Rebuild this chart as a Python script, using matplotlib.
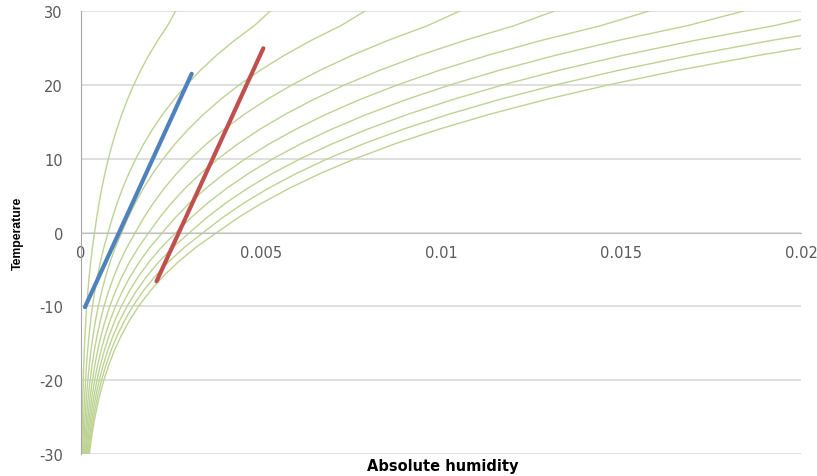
import numpy as np
from matplotlib import pyplot as plt, font_manager as fm

# Temperature grid and saturation absolute humidity (kg/kg) read for the curves
temps = [-30, -28, -26, -24, -22, -20, -18, -16, -14, -12, -10, -8, -6, -4, -2,
         0, 2, 4, 6, 8, 10, 12, 14, 16, 18, 20, 22, 24, 26, 28, 30]
sat_humidity = [0.000234, 0.000287, 0.000352, 0.000430, 0.000523, 0.000635,
                0.000768, 0.000926, 0.001114, 0.001337, 0.001599, 0.001909,
                0.002272, 0.002697, 0.003194, 0.003775, 0.004363, 0.005031,
                0.005789, 0.006648, 0.007619, 0.008714, 0.009950, 0.011339,
                0.012902, 0.014656, 0.016624, 0.018826, 0.021290, 0.024046,
                0.026300]
rel_humidity = [0.1, 0.2, 0.3, 0.4, 0.5, 0.6, 0.7, 0.8, 0.9, 1.0]

# Two process lines (x = absolute humidity, y = temperature)
blue_x = [0.000111, 0.003075]
blue_y = [-10.1, 21.5]
red_x = [0.0021, 0.005065]
red_y = [-6.6, 24.95]

CURVECOLOR = '#bdd393'
BLUE = '#4f81bd'
RED = '#c0504d'
GRIDCOLOR = '#d9d9d9'
LABELCOLOR = '#595959'

plt.rcParams['axes.unicode_minus'] = False

# narrow bold font for the y label if there is one
names = {f.name for f in fm.fontManager.ttflist}
if 'Liberation Sans Narrow' in names:
    ylab_font, ylab_size = 'Liberation Sans Narrow', 10
else:
    ylab_font, ylab_size = 'Liberation Sans', 8.8

fig = plt.figure(figsize=(8.17, 4.77), dpi=100)
ax = fig.add_axes([0.0991, 0.0461, 0.8813, 0.9287])

sat = np.array(sat_humidity)
for rh in rel_humidity:
    ax.plot(sat * rh, temps, color=CURVECOLOR, lw=1.0, zorder=2)

ax.plot(blue_x, blue_y, color=BLUE, lw=3, solid_capstyle='round', zorder=3)
ax.plot(red_x, red_y, color=RED, lw=3, solid_capstyle='round', zorder=3)

ax.set_xlim(0, 0.02)
ax.set_ylim(-30, 30)
ax.set_xticks([0, 0.005, 0.01, 0.015, 0.02])
ax.set_xticklabels(['0', '0.005', '0.01', '0.015', '0.02'])
ax.set_yticks(range(-30, 31, 10))

ax.yaxis.grid(True, color=GRIDCOLOR, lw=1.2)
ax.set_axisbelow(True)

for s in ['top', 'right']:
    ax.spines[s].set_visible(False)
ax.spines['bottom'].set_position(('data', 0))
ax.spines['bottom'].set_color('#bfbfbf')
ax.spines['left'].set_color('#a6a6a6')

ax.tick_params(axis='both', length=0, labelsize=10.5, labelcolor=LABELCOLOR)
ax.tick_params(axis='y', pad=13)
ax.tick_params(axis='x', pad=9)

ax.set_xlabel('Absolute humidity', fontsize=10.5, fontweight='bold', color='#000000')
ax.xaxis.set_label_coords(0.502, -0.025)
ax.xaxis.label.set_va('center')
ax.set_ylabel('Temperature', fontsize=ylab_size, fontweight='bold',
              family=[ylab_font, 'DejaVu Sans'])
ax.yaxis.set_label_coords(-0.088, 0.501)
ax.yaxis.label.set_va('center')

fig.savefig('out.png', dpi=100)
